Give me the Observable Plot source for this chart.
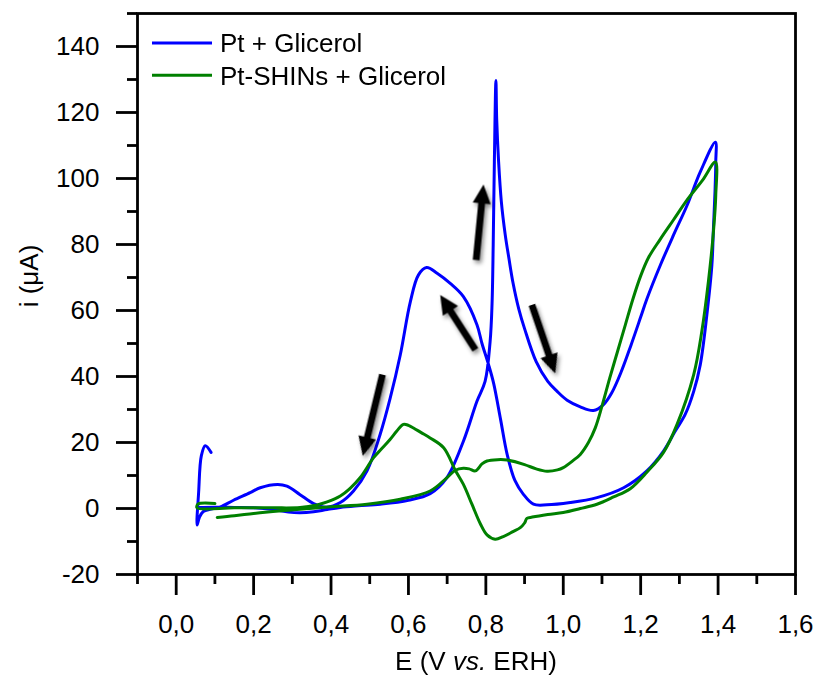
<!DOCTYPE html>
<html>
<head>
<meta charset="utf-8">
<script src="https://cdn.jsdelivr.net/npm/d3@7"></script>
<script src="https://cdn.jsdelivr.net/npm/@observablehq/plot@0.6"></script>
<style>
  html, body { margin: 0; padding: 0; background: #ffffff; }
  #chart { width: 815px; height: 675px; }
</style>
</head>
<body>
<div id="chart"></div>
<script>
// ---- Data ----
const blueE = [0.054, 0.10, 0.15, 0.20, 0.25, 0.29, 0.32, 0.355, 0.39, 0.424, 0.47, 0.527, 0.60, 0.656, 0.699, 0.742, 0.777, 0.798, 0.811, 0.816, 0.819, 0.822, 0.826,
  0.828, 0.833, 0.84, 0.85, 0.86, 0.87, 0.885, 0.90, 0.93, 0.96, 0.984, 1.01, 1.044, 1.078, 1.104, 1.125, 1.15, 1.175, 1.20, 1.216, 1.251, 1.285, 1.32, 1.354, 1.393,
  1.394, 1.392, 1.388, 1.384, 1.371, 1.354, 1.337, 1.315, 1.289, 1.259, 1.216, 1.156, 1.087, 1.018, 0.958, 0.923, 0.897, 0.875, 0.855, 0.838, 0.82, 0.807, 0.79, 0.777, 0.742, 0.708, 0.674, 0.647, 0.626, 0.605, 0.579, 0.553, 0.527, 0.493, 0.458, 0.424, 0.389,
  0.355, 0.32, 0.286, 0.262, 0.217, 0.191, 0.148, 0.114, 0.09, 0.07, 0.06, 0.054, 0.058, 0.065, 0.075, 0.09];
const blueI = [0.3, 0.4, 0.3, 0.2, -0.3, -1.1, -1.3, -1.0, -0.3, 0.3, 0.8, 1.3, 2.5, 4.5, 9.3, 20.4, 32.5, 38.5, 50.6, 62, 80, 105, 129.7,
  118, 105, 93, 83, 75.5, 68.5, 60.5, 54.5, 44.5, 38.5, 35.5, 32.8, 30.8, 29.7, 31.5, 35, 41.5, 49.5, 58, 63.5, 73.8, 82.9, 91.9, 102, 111,
  105, 96, 85, 73.8, 58.7, 43.6, 35.5, 28.5, 23.4, 17.4, 11.4, 6.3, 3.3, 1.8, 1.1, 1.3, 4.3, 8.5, 16.4, 27, 38, 43.6, 50, 55.7, 64.2, 68.2, 71.3, 73, 70.8, 62.7, 46.6, 33.5, 22.5, 11.4, 5.3, 1.8, 0.4,
  1.5, 4.2, 6.8, 7.3, 6.3, 4.8, 2.5, 0.5, -0.2, -0.9, -2.7, -5.0, 5, 16, 19, 17];

const greenE = [0.106, 0.15, 0.20, 0.25, 0.32, 0.40, 0.493, 0.579, 0.656, 0.699, 0.721, 0.742, 0.757, 0.773, 0.79, 0.803, 0.83, 0.855, 0.90, 0.93, 0.958, 0.985, 1.0, 1.025, 1.044, 1.065, 1.083, 1.10, 1.12, 1.14, 1.16, 1.18, 1.20, 1.22, 1.25, 1.285, 1.32, 1.36, 1.393,
  1.394, 1.388, 1.375, 1.358, 1.337, 1.294, 1.259, 1.216, 1.173, 1.13, 1.087, 1.044, 1.0, 0.96, 0.92, 0.906, 0.90, 0.889, 0.87, 0.845, 0.824, 0.803, 0.786, 0.764, 0.742, 0.721, 0.691, 0.656, 0.633, 0.613, 0.60, 0.587, 0.57, 0.553, 0.53, 0.51, 0.475, 0.45, 0.424, 0.39, 0.364, 0.32, 0.25, 0.15, 0.054, 0.056, 0.10];
const greenI = [-2.7, -2.2, -1.5, -0.9, -0.2, 0.5, 1.3, 2.8, 5.3, 9.3, 11.6, 12.2, 12.0, 11.4, 13.5, 14.4, 14.8, 14.7, 13.3, 12.0, 11.3, 11.7, 12.4, 14.5, 16.4, 20, 24.5, 31, 39.5, 47.5, 55.5, 63.5, 70.5, 76, 81.5, 87.5, 93.5, 99.5, 105,
  95, 83.9, 68.8, 53.7, 40.6, 25.5, 17, 11, 6.0, 3.5, 1.3, 0, -1.2, -1.8, -2.6, -3.0, -4.4, -5.8, -7.0, -8.5, -9.3, -8.0, -4.7, 1.3, 7.3, 11.6, 18.4, 21.4, 23, 24.4, 25.2, 25.5, 23.5, 21, 18, 15.4, 9.3, 6.2, 3.8, 2.0, 1.1, 0.3, 0.2, 0.2, 0.2, 1.3, 1.5];

// arrows (tail -> tip), data units
const arrowX1 = [0.533, 0.773, 0.775, 0.919];
const arrowY1 = [40.6, 48.1, 75.3, 61.7];
const arrowX2 = [0.482, 0.682, 0.794, 0.979];
const arrowY2 = [15.9, 64.7, 98.2, 41.0];

const seriesNames = ["Pt + Glicerol", "Pt-SHINs + Glicerol"];
const seriesColors = ["#0000ff", "#008000"];

const xDomain = [-0.1, 1.6];
const yDomain = [-20, 150];
const xMajor = [0.0, 0.2, 0.4, 0.6, 0.8, 1.0, 1.2, 1.4, 1.6];
const xMinor = [-0.1, 0.1, 0.3, 0.5, 0.7, 0.9, 1.1, 1.3, 1.5];
const yMajor = [-20, 0, 20, 40, 60, 80, 100, 120, 140];
const yMinor = [-10, 10, 30, 50, 70, 90, 110, 130, 150];

const xLabelParts = ["E (V ", "vs.", " ERH)"];
const yLabel = "i (\u03bcA)";

// ---- Layout ----
const W = 815, H = 675;
const mL = 137, mR = 20, mT = 13, mB = 101;
const FONT = "'Liberation Sans', Arial, Helvetica, sans-serif";

const blue = blueE.map((e, i) => ({E: e, I: blueI[i]}));
const green = greenE.map((e, i) => ({E: e, I: greenI[i]}));

const sx = Plot.scale({x: {domain: xDomain, range: [mL, W - mR]}});
const sy = Plot.scale({y: {domain: yDomain, range: [H - mB, mT]}});
const arrows = arrowX1.map((x1, i) => {
  const px1 = sx.apply(x1), py1 = sy.apply(arrowY1[i]);
  const px2 = sx.apply(arrowX2[i]), py2 = sy.apply(arrowY2[i]);
  return {
    x: arrowX2[i], y: arrowY2[i],
    len: Math.hypot(px2 - px1, py2 - py1),
    rot: Math.atan2(px2 - px1, -(py2 - py1)) * 180 / Math.PI
  };
});
const arrowShape = {
  draw(ctx, l) {
    const w = 3.4, hw = 9, hl = 19;
    ctx.moveTo(-w, 0);
    ctx.lineTo(-w, -(l - hl));
    ctx.lineTo(-hw, -(l - hl));
    ctx.lineTo(0, -l);
    ctx.lineTo(hw, -(l - hl));
    ctx.lineTo(w, -(l - hl));
    ctx.lineTo(w, 0);
    ctx.closePath();
  }
};

const fmtX = d => d.toFixed(1).replace(".", ",");

const plot = Plot.plot({
  width: W, height: H,
  marginLeft: mL, marginRight: mR, marginTop: mT, marginBottom: mB,
  style: {fontFamily: FONT, fontSize: "26px", color: "black", background: "white", overflow: "visible"},
  x: {domain: xDomain, label: null},
  y: {domain: yDomain, label: null},
  length: {type: "identity"},
  marks: [
    Plot.axisX({ticks: xMinor, tickSize: 10, tickFormat: () => "", strokeWidth: 2.8, label: null}),
    Plot.axisX({ticks: xMajor, tickSize: 21, tickPadding: 19, tickFormat: fmtX, strokeWidth: 2.8, fontSize: 26, label: null}),
    Plot.axisY({ticks: yMinor, tickSize: 10, tickFormat: () => "", strokeWidth: 2.8, label: null}),
    Plot.axisY({ticks: yMajor, tickSize: 21, tickPadding: 17, tickFormat: d => String(d), strokeWidth: 2.8, fontSize: 26, label: null}),
    Plot.line(blue, {x: "E", y: "I", stroke: seriesColors[0], strokeWidth: 3, curve: "catmull-rom"}),
    Plot.line(green, {x: "E", y: "I", stroke: seriesColors[1], strokeWidth: 3, curve: "catmull-rom"}),
    Plot.vector(arrows, {x: "x", y: "y", length: "len", rotate: "rot", anchor: "end", shape: arrowShape, fill: "black", stroke: "none"}),
    Plot.frame({stroke: "black", strokeWidth: 2.8})
  ]
});

const svg = d3.select(plot);
svg.selectAll('g[aria-label="vector"]').style("filter", "drop-shadow(2px 3px 2px rgba(0,0,0,0.45))");

// Legend (inside the frame, top-left)
const leg = svg.append("g").attr("font-family", FONT).attr("font-size", 26).attr("text-anchor", "start");
seriesNames.forEach((name, i) => {
  const cy = 43 + i * 32.3;
  leg.append("line").attr("x1", 152).attr("x2", 212).attr("y1", cy).attr("y2", cy)
    .attr("stroke", seriesColors[i]).attr("stroke-width", 3);
  leg.append("text").attr("x", 220).attr("y", cy + 9.3).attr("text-anchor", "start").attr("fill", "black").text(name);
});

// Axis titles
const xt = svg.append("text").attr("x", 476).attr("y", 670).attr("text-anchor", "middle")
  .attr("font-family", FONT).attr("font-size", 26).attr("fill", "black");
xt.append("tspan").text(xLabelParts[0]);
xt.append("tspan").attr("font-style", "italic").text(xLabelParts[1]);
xt.append("tspan").text(xLabelParts[2]);

svg.append("text").attr("transform", "translate(38,276) rotate(-90)").attr("text-anchor", "middle")
  .attr("font-family", FONT).attr("font-size", 26).attr("fill", "black").text(yLabel);

document.getElementById("chart").appendChild(plot);
</script>
</body>
</html>
